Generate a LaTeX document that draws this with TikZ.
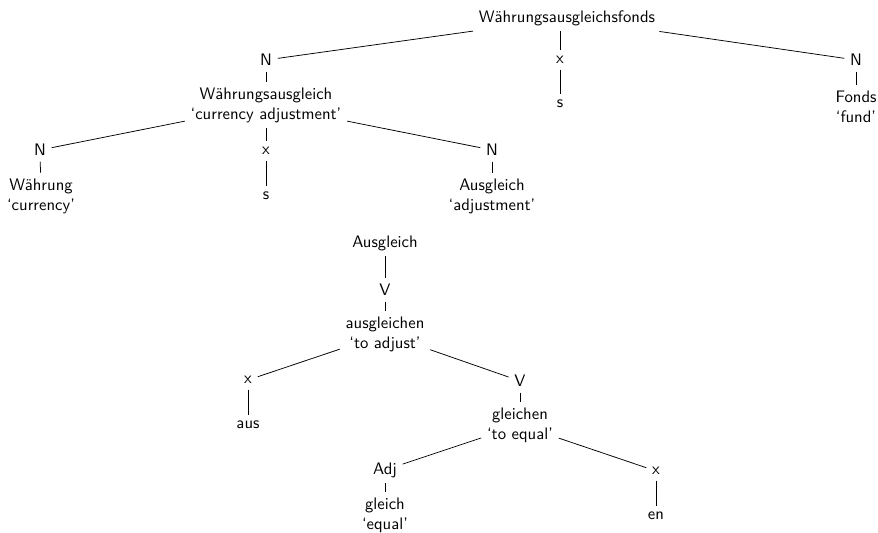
\documentclass[tikz,border=0pt]{standalone}
\begin{document}
\begin{tikzpicture}[x=0.6pt,y=-0.6pt,
  every node/.style={font=\sffamily, align=center, inner sep=3.3pt},
  edge/.style={draw, line width=0.45pt}]
\useasboundingbox (0,0) rectangle (878,533);

% Compound: Währungsausgleichsfonds
\node (root) at (567,18) {Währungsausgleichsfonds};
\node (n1) at (266,60) {N};
\node (x1) at (560,60) {x};
\node (s1) at (560,104) {s};
\node (n2) at (856,60) {N};
\node (fonds) at (856,107) {Fonds\\‘fund’};
\node (wa) at (266,105) {Währungsausgleich\\‘currency adjustment’};
\node (n3) at (40,150) {N};
\node (x2) at (266,151) {x};
\node (s2) at (266,196) {s};
\node (n4) at (492,150) {N};
\node (wg) at (41,196) {Währung\\‘currency’};
\node (ag) at (492,196) {Ausgleich\\‘adjustment’};

\draw[edge] (root) -- (n1);
\draw[edge] (x1 |- root.south) -- (x1);
\draw[edge] (x1) -- (s1);
\draw[edge] (root) -- (n2);
\draw[edge] (n2) -- (fonds);
\draw[edge] (n1) -- (wa);
\draw[edge] (wa) -- (n3);
\draw[edge] (wa) -- (x2);
\draw[edge] (x2) -- (s2);
\draw[edge] (wa) -- (n4);
\draw[edge] (n3) -- (wg);
\draw[edge] (n4) -- (ag);

% Derivation: Ausgleich
\node (ag2) at (385,243) {Ausgleich};
\node (v1) at (385,290) {V};
\node (agl) at (385,334) {ausgleichen\\‘to adjust’};
\node (x3) at (248,380) {x};
\node (aus) at (248,425) {aus};
\node (v2) at (520,381) {V};
\node (gl) at (520,425) {gleichen\\‘to equal’};
\node (adj) at (385,470) {Adj};
\node (gleich) at (385,515) {gleich\\‘equal’};
\node (x4) at (656,471) {x};
\node (en) at (656,516) {en};

\draw[edge] (ag2) -- (v1);
\draw[edge] (v1) -- (agl);
\draw[edge] (agl) -- (x3);
\draw[edge] (x3) -- (aus);
\draw[edge] (agl) -- (v2);
\draw[edge] (v2) -- (gl);
\draw[edge] (gl) -- (adj);
\draw[edge] (adj) -- (gleich);
\draw[edge] (gl) -- (x4);
\draw[edge] (x4) -- (en);
\end{tikzpicture}
\end{document}
